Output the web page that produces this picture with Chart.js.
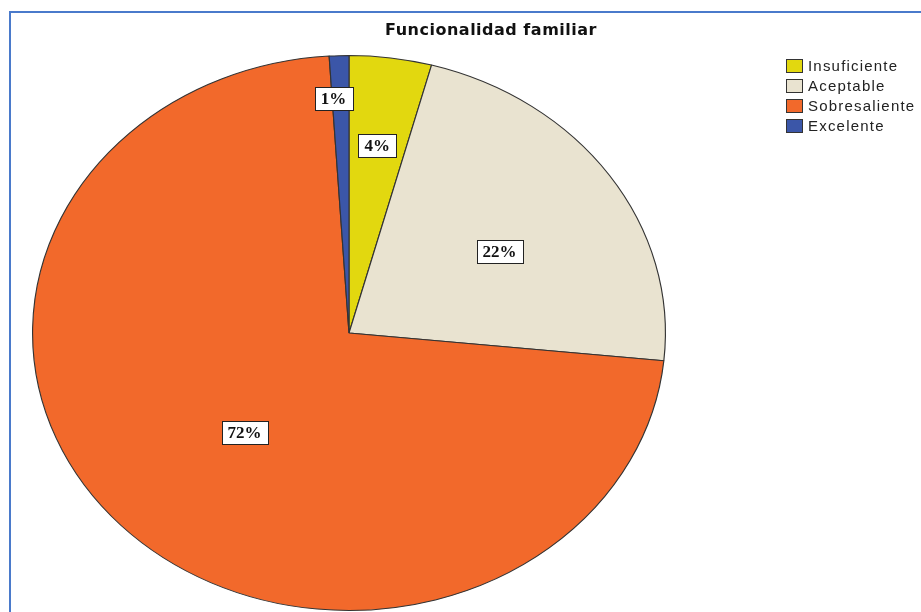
<!DOCTYPE html>
<html lang="es">
<head>
  <meta charset="UTF-8">
  <title>Funcionalidad familiar</title>
  <style>
    body {
      margin: 0;
      padding: 0;
      background-color: white;
      overflow: hidden;
    }
    .frame {
      position: absolute;
      left: 9px;
      top: 11px;
      width: 1000px;
      height: 700px;
      border: 2px solid #4a7acb;
    }
    #pieChart {
      position: absolute;
      left: 0;
      top: 0;
    }
  </style>
</head>
<body>
  <div class="frame"></div>
  <canvas id="pieChart" width="921" height="612"></canvas>

  <script src="https://cdn.jsdelivr.net/npm/chart.js"></script>
  <script>
    const chartTitle = "Funcionalidad familiar";
    const categories = ["Insuficiente", "Aceptable", "Sobresaliente", "Excelente"];
    const percentages = [4.2, 22.4, 72.4, 1.0];
    const sliceColors = ["#e2d80f", "#e9e3d0", "#f2692b", "#3b56a8"];

    // the pie is drawn as a circle and stretched sideways into an ellipse
    const stretchX = 317 / 278;
    const labelRadius = [0.68, 0.57, 0.48, 0.85];
    const labelNudge = [[0, 0], [2, 8], [5, 7], [-7, 1]];

    const ellipsePlugin = {
      id: "ellipse",
      beforeDatasetsDraw(chart) {
        const arc = chart.getDatasetMeta(0).data[0];
        const ctx = chart.ctx;
        ctx.save();
        ctx.translate(arc.x, arc.y);
        ctx.scale(stretchX, 1);
        ctx.translate(-arc.x, -arc.y);
      },
      afterDatasetsDraw(chart) {
        chart.ctx.restore();
      }
    };

    const decorPlugin = {
      id: "decor",
      afterDraw(chart) {
        const ctx = chart.ctx;
        const meta = chart.getDatasetMeta(0);
        ctx.save();

        // percentage labels in boxes
        ctx.font = "bold 17px 'Liberation Serif', serif";
        ctx.textAlign = "center";
        ctx.textBaseline = "middle";
        meta.data.forEach((arc, i) => {
          const mid = (arc.startAngle + arc.endAngle) / 2;
          const r = arc.outerRadius * labelRadius[i];
          const x = arc.x + Math.cos(mid) * r * stretchX + labelNudge[i][0];
          const y = arc.y + Math.sin(mid) * r + labelNudge[i][1];
          const text = Math.round(percentages[i]) + "%";
          const w = Math.round(ctx.measureText(text).width + 12);
          const h = 23;
          const bx = Math.round(x - w / 2) + 0.5;
          const by = Math.round(y - h / 2) + 0.5;
          ctx.fillStyle = "white";
          ctx.fillRect(bx, by, w, h);
          ctx.strokeStyle = "#222";
          ctx.lineWidth = 1;
          ctx.strokeRect(bx, by, w, h);
          ctx.fillStyle = "#111";
          ctx.fillText(text, x, y + 1);
        });

        // title
        ctx.font = "bold 16px 'DejaVu Sans', sans-serif";
        ctx.letterSpacing = "0.5px";
        ctx.fillStyle = "#111";
        ctx.fillText(chartTitle, 491, 31);

        // legend
        ctx.font = "15px 'Liberation Sans', sans-serif";
        ctx.letterSpacing = "1.2px";
        ctx.textAlign = "left";
        categories.forEach((name, i) => {
          const top = 59 + i * 20;
          ctx.fillStyle = sliceColors[i];
          ctx.fillRect(786.5, top + 0.5, 16, 13);
          ctx.strokeStyle = "#333";
          ctx.strokeRect(786.5, top + 0.5, 16, 13);
          ctx.fillStyle = "#222";
          ctx.fillText(name, 808, top + 8);
        });
        ctx.restore();
      }
    };

    const ctx = document.getElementById("pieChart").getContext("2d");
    const pieChart = new Chart(ctx, {
      type: "pie",
      data: {
        labels: categories,
        datasets: [{
          data: percentages,
          backgroundColor: sliceColors,
          borderColor: "#333333",
          borderWidth: 1,
          clip: false
        }]
      },
      options: {
        responsive: false,
        animation: false,
        layout: {
          padding: { top: 55, bottom: 1, left: 71, right: 294 }
        },
        plugins: {
          legend: { display: false },
          title: { display: false },
          tooltip: { enabled: false }
        }
      },
      plugins: [ellipsePlugin, decorPlugin]
    });
  </script>
</body>
</html>
